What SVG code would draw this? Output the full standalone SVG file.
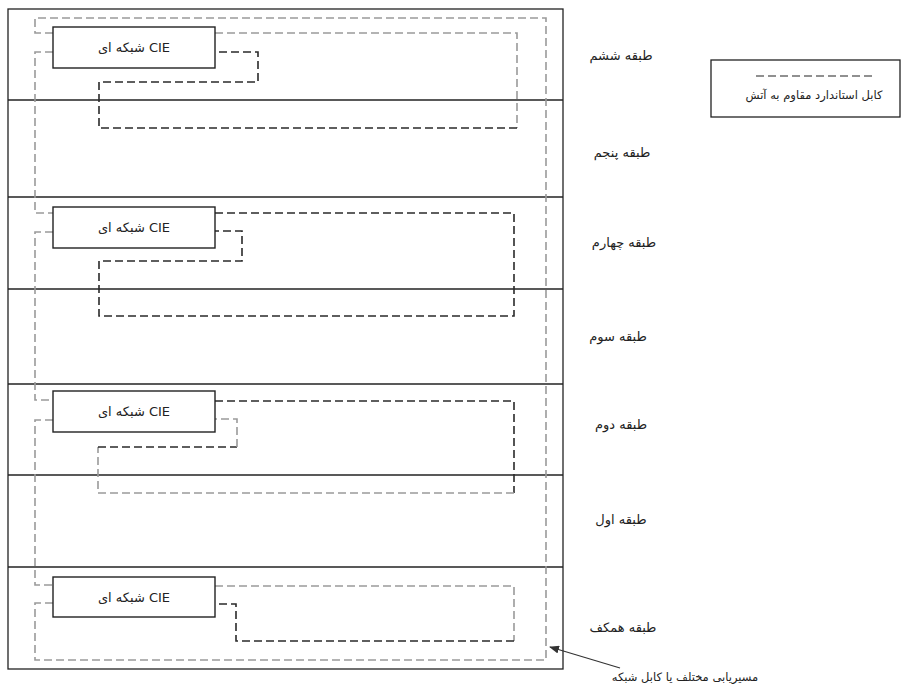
<svg xmlns="http://www.w3.org/2000/svg" width="913" height="688" viewBox="0 0 913 688">
<style>
.frame{fill:none;stroke:#222;stroke-width:1.3}
.floor{stroke:#222;stroke-width:1.3}
.box{fill:#fff;stroke:#222;stroke-width:1.4}
.g{fill:none;stroke:#9a9a9a;stroke-width:1.6;stroke-dasharray:8 4}
.k{fill:none;stroke:#2a2a2a;stroke-width:1.6;stroke-dasharray:8 4}
.t{font-family:"DejaVu Sans","Noto Sans",sans-serif;font-size:13px;fill:#222;text-anchor:middle}
.s{font-family:"DejaVu Sans","Noto Sans",sans-serif;font-size:11.5px;fill:#222;text-anchor:middle}
.bt{font-family:"DejaVu Sans","Noto Sans",sans-serif;font-size:13px;fill:#222;text-anchor:middle}
</style>
<defs>
<marker id="ah" markerWidth="10" markerHeight="8" refX="9" refY="4" orient="auto" markerUnits="userSpaceOnUse">
<path d="M0,0 L10,4 L0,8 z" fill="#333"/>
</marker>
</defs>
<rect width="913" height="688" fill="#fff"/>
<g id="building">
<rect class="frame" x="8" y="9" width="555" height="660"/>
<line class="floor" x1="8" y1="100" x2="563" y2="100"/>
<line class="floor" x1="8" y1="197" x2="563" y2="197"/>
<line class="floor" x1="8" y1="289" x2="563" y2="289"/>
<line class="floor" x1="8" y1="384" x2="563" y2="384"/>
<line class="floor" x1="8" y1="475" x2="563" y2="475"/>
<line class="floor" x1="8" y1="567" x2="563" y2="567"/>
</g>
<g id="connectors">
<path class="g" d="M53,603 H35 V660 H546 V18 H35 V33 H53"/>
<path class="g" d="M53,52 H35 V213 H53"/>
<path class="g" d="M53,232 H35 V400 H53"/>
<path class="g" d="M53,420 H35 V585 H53"/>
<path class="g" d="M215,33 H517 V128"/>
<path class="k" d="M517,128 H99 V82 H258 V52 H215"/>
<path class="k" d="M215,213 H514 V316 H99 V261 H242 V231 H215"/>
<path class="k" d="M215,401 H514 V493"/>
<path class="g" d="M514,493 H98 V447"/>
<path class="k" d="M98,447 H237"/>
<path class="g" d="M237,447 V419 H215"/>
<path class="g" d="M215,586 H514 V641"/>
<path class="k" d="M514,641 H236 V604 H215"/>
<line x1="620" y1="668" x2="550" y2="647" stroke="#333" stroke-width="1.2" marker-end="url(#ah)"/>
</g>
<g id="cie6"><rect class="box" x="53" y="27" width="162" height="41"/><text class="bt" x="134" y="52" direction="rtl" unicode-bidi="embed">CIE شبکه ای</text></g>
<g id="cie4"><rect class="box" x="53" y="207" width="162" height="41"/><text class="bt" x="134" y="232" direction="rtl" unicode-bidi="embed">CIE شبکه ای</text></g>
<g id="cie2"><rect class="box" x="53" y="391" width="162" height="41"/><text class="bt" x="134" y="416" direction="rtl" unicode-bidi="embed">CIE شبکه ای</text></g>
<g id="cie0"><rect class="box" x="53" y="577" width="162" height="40"/><text class="bt" x="134" y="602" direction="rtl" unicode-bidi="embed">CIE شبکه ای</text></g>
<g id="labels">
<text class="t" x="621" y="60" direction="rtl">طبقه ششم</text>
<text class="t" x="622" y="157" direction="rtl">طبقه پنجم</text>
<text class="t" x="624" y="247" direction="rtl">طبقه چهارم</text>
<text class="t" x="618" y="341" direction="rtl">طبقه سوم</text>
<text class="t" x="621" y="429" direction="rtl">طبقه دوم</text>
<text class="t" x="621" y="524" direction="rtl">طبقه اول</text>
<text class="t" x="623" y="632" direction="rtl">طبقه همکف</text>
<text class="s" x="685" y="681" direction="rtl">مسیریابی مختلف یا کابل شبکه</text>
</g>
<g id="legend">
<rect x="711" y="60" width="189" height="57" fill="#fff" stroke="#222" stroke-width="1.3"/>
<line x1="756" y1="76" x2="872" y2="76" stroke="#222" stroke-width="1.2" stroke-dasharray="8 4"/>
<text class="s" x="814" y="99" direction="rtl">کابل استاندارد مقاوم به آتش</text>
</g>
</svg>
